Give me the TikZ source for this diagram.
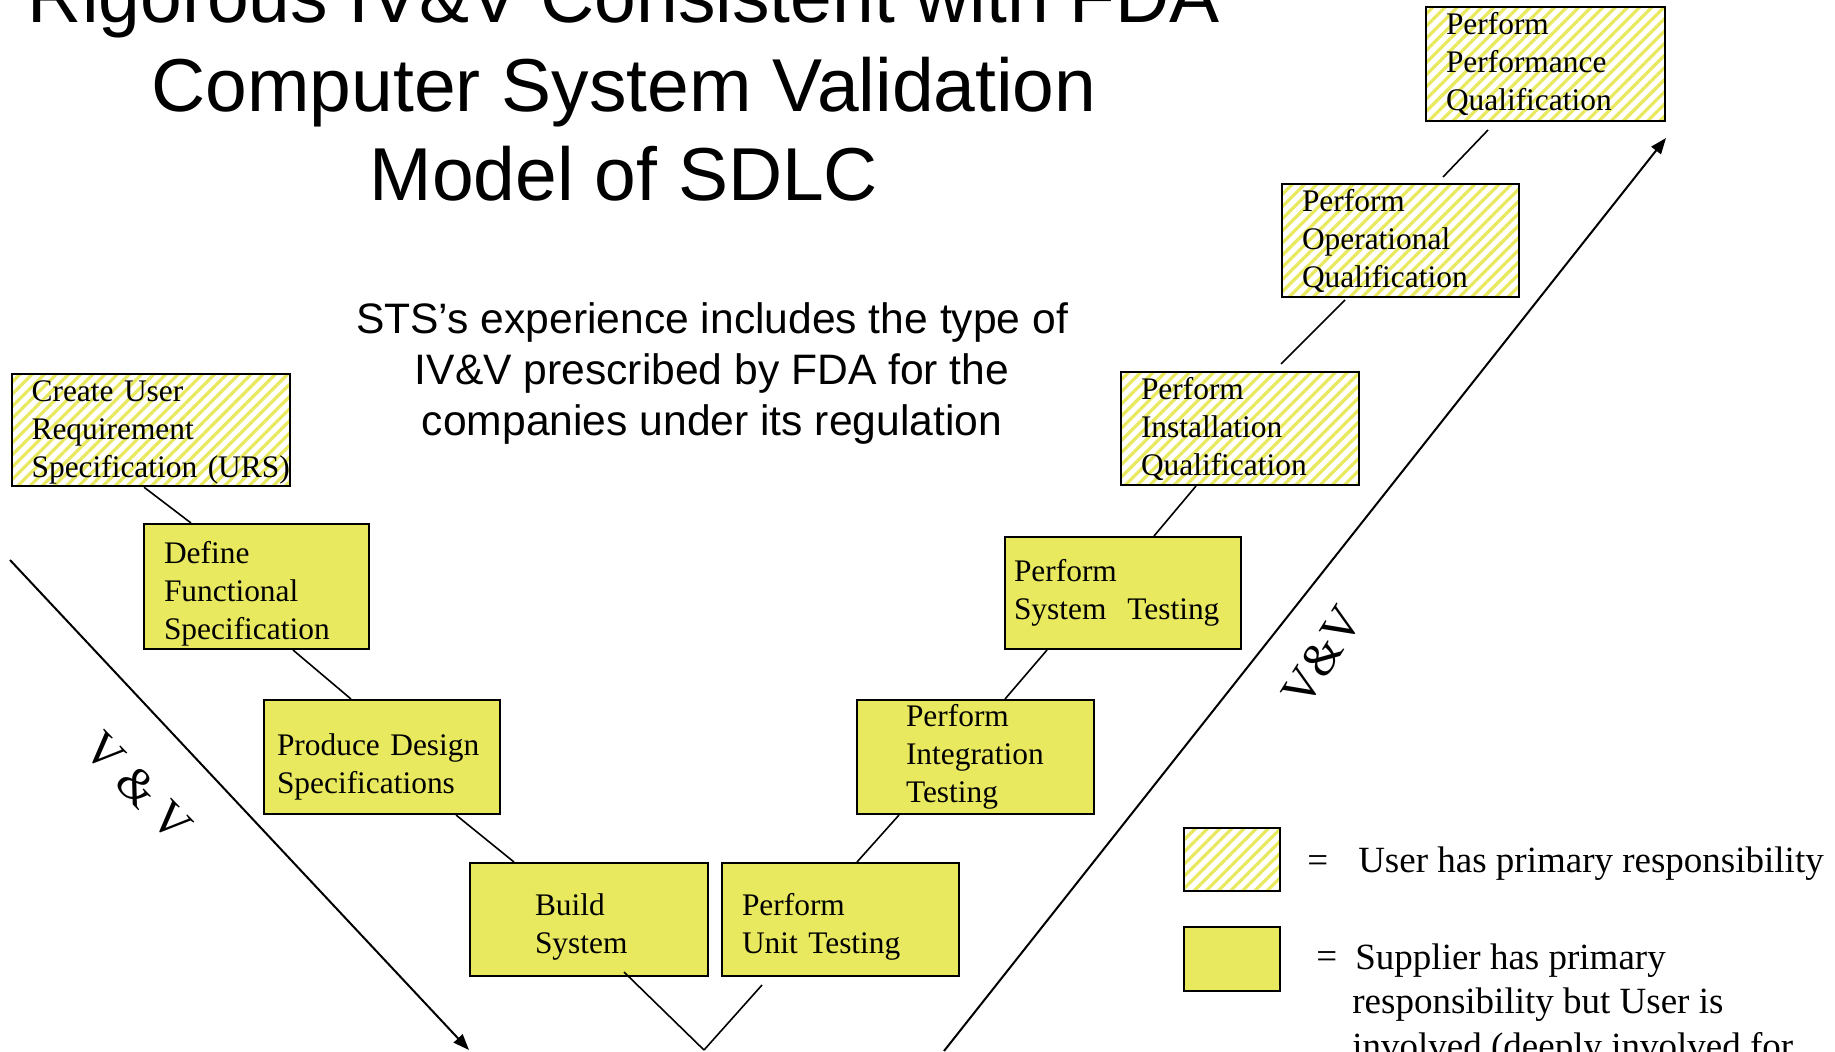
\documentclass[tikz,border=0pt]{standalone}
\usepackage{fontspec}
\setmainfont{Liberation Serif}
\newfontfamily\arialfont{Liberation Sans}
\usetikzlibrary{arrows.meta,patterns.meta}
\definecolor{vyellow}{RGB}{233,233,95}
\tikzset{
  stage/.style={draw, line width=1pt, anchor=north west, align=left, inner ysep=0pt,
    font=\fontsize{15.7pt}{19pt}\selectfont},
  userbox/.style={stage, preaction={fill=white},
    pattern={Lines[angle=45,distance=4.3pt,line width=1.6pt]}, pattern color=vyellow},
  supbox/.style={stage, fill=vyellow},
  pushdown/.style={execute at begin node={\rule{0pt}{#1}}},
  link/.style={line width=0.8pt},
  vvlabel/.style={font=\fontsize{24pt}{28pt}\selectfont},
  legtext/.style={anchor=base west, inner sep=0pt, font=\fontsize{18.5pt}{22.2pt}\selectfont}
}
\begin{document}
\begin{tikzpicture}[x=0.5pt,y=-0.5pt]
\useasboundingbox (0,0) rectangle (1835,1051);
% headings
\node[anchor=base, align=center, font=\arialfont\fontsize{37.5pt}{44.5pt}\selectfont] (title) at (624,200)
  {Rigorous IV\&V Consistent with FDA\\Computer System Validation\\Model of SDLC};
\node[anchor=base, align=center, font=\arialfont\fontsize{21.3pt}{25.5pt}\selectfont] (sts) at (712,435)
  {STS’s experience includes the type of\\IV\&V prescribed by FDA for the\\companies under its regulation};
% left leg
\node[userbox, pushdown=13pt, minimum height=56pt, text width=119pt, inner xsep=10pt] (urs) at (10,372)
  {Create User\\Requirement\\\mbox{Specification (URS)}};
\node[supbox, pushdown=18pt, minimum height=62.5pt, text width=92.5pt, inner xsep=10pt] (define) at (143,523)
  {Define\\Functional\\Specification};
\node[supbox, pushdown=20.4pt, minimum height=57pt, text width=105pt, inner xsep=6.5pt] (design) at (263,699)
  {Produce Design\\Specifications};
\node[supbox, pushdown=18pt, minimum height=56.5pt, text width=54pt, inner xsep=32.5pt] (build) at (469,862)
  {Build\\System};
% right leg
\node[supbox, pushdown=18pt, minimum height=56.5pt, text width=98.5pt, inner xsep=10pt] (unit) at (721,862)
  {Perform\\Unit Testing};
\node[supbox, minimum height=57pt, text width=69.5pt, inner xsep=24.5pt] (integ) at (856,699)
  {Perform\\Integration\\Testing};
\node[supbox, minimum height=56pt, text width=109pt, inner xsep=4.5pt] (systest) at (1004,536)
  {Perform\\System\ \ Testing};
\node[userbox, minimum height=56.5pt, text width=99pt, inner xsep=10pt] (iq) at (1120,371)
  {Perform\\Installation\\Qualification};
\node[userbox, minimum height=56.5pt, text width=98.5pt, inner xsep=10pt] (oq) at (1281,183)
  {Perform\\Operational\\Qualification};
\node[userbox, minimum height=57pt, text width=99.5pt, inner xsep=10pt] (pq) at (1425,6)
  {Perform\\Performance\\Qualification};
% links
\coordinate (vtx) at (704,1050);
\draw[link] ([xshift=67pt]urs.south west) -- ([xshift=24pt]define.north west);
\draw[link] ([xshift=75pt]define.south west) -- ([xshift=44pt]design.north west);
\draw[link] ([xshift=96.5pt]design.south west) -- ([xshift=22.5pt]build.north west);
\draw[link] ([xshift=77.5pt,yshift=2.5pt]build.south west) -- (vtx);
\draw[link] ([xshift=20.5pt,yshift=-4pt]unit.south west) -- (vtx);
\draw[link] ([xshift=68pt]unit.north west) -- ([xshift=21.5pt]integ.south west);
\draw[link] ([xshift=74.5pt]integ.north west) -- ([xshift=21.5pt]systest.south west);
\draw[link] ([xshift=75pt]systest.north west) -- ([xshift=38pt]iq.south west);
\draw[link] ([xshift=80.5pt,yshift=3.5pt]iq.north west) -- ([xshift=32pt,yshift=-1pt]oq.south west);
\draw[link] ([xshift=81pt,yshift=3pt]oq.north west) -- ([xshift=31.5pt,yshift=-4pt]pq.south west);
% V&V arrows
\coordinate (ltop) at (10,560);
\coordinate (lbot) at (469,1050);
\coordinate (rbot) at (944,1051);
\coordinate (rtop) at (1666,138);
\draw[line width=1pt, -{Triangle[length=8pt,width=6pt]}] (ltop) -- (lbot);
\draw[line width=1pt, -{Triangle[length=8pt,width=6pt]}] (rbot) -- (rtop);
\node[vvlabel, rotate=-46] (vvleft) at (138,787) {V \& V};
\node[vvlabel, rotate=58] (vvright) at (1322,656) {V\&V};
% legend
\node[userbox, minimum width=48pt, minimum height=31.5pt, inner sep=0pt] (leguser) at (1183,827) {};
\node[supbox, minimum width=48pt, minimum height=32pt, inner sep=0pt] (legsup) at (1183,926) {};
\node[legtext] (userlbl) at (1307,872) {=\hspace{15pt}User has primary responsibility};
\node[legtext] (eqsup) at (1316,968) {=};
\node[legtext, align=left] (suplbl) at (1352,1058)
  {\hspace{1.5pt}Supplier has primary\\responsibility but User is\\involved (deeply involved for};
\end{tikzpicture}
\end{document}
